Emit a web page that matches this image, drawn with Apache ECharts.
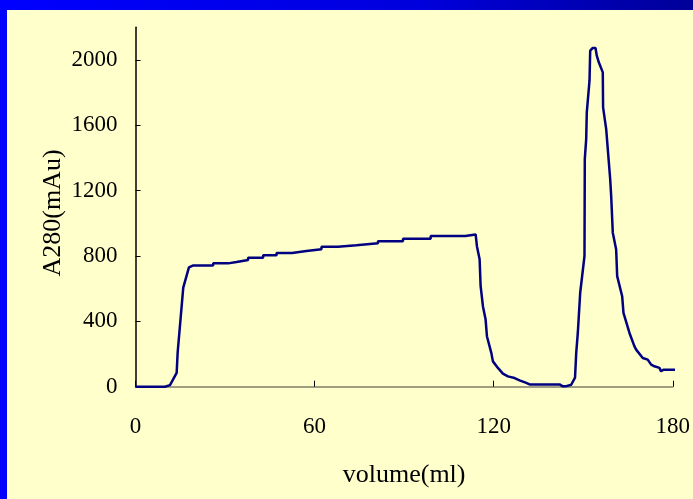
<!DOCTYPE html>
<html>
<head>
<meta charset="utf-8">
<script src="https://cdn.jsdelivr.net/npm/echarts@6/dist/echarts.min.js"></script>
<style>
html,body{margin:0;padding:0;background:#FFFFCC;}
#chart{width:693px;height:499px;}
</style>
</head>
<body>
<div id="chart"></div>
<script>
// Data
var volume = [0, 9.87, 10.2, 11.55, 13.79, 14.12, 16.0, 17.9, 19.34,
  26.0, 26.04, 31.04, 31.06, 33.85, 33.87, 37.73, 37.75, 42.75, 42.77, 47.24, 47.26,
  52.46, 52.48, 57.28, 57.30, 62.30, 62.32, 67.85, 67.87, 74.01, 74.03, 81.24, 81.26,
  89.61, 89.63, 98.88, 98.90, 110.5, 110.84, 113.96,
  114.39, 115.29, 115.63, 116.40, 117.30, 117.74, 119.21, 119.75, 121.42, 123.09,
  124.77, 127.01, 128.68, 130.92, 132.03, 142.07, 143.17, 144.08, 145.98,
  147.26, 147.66, 148.19, 148.99, 150.43, 150.53, 151.0, 151.2, 152.11, 152.34,
  153.21, 154.12, 154.55, 155.22, 156.56, 156.66, 157.70, 159.04, 159.37, 159.91,
  161.04, 161.38, 163.05, 163.49, 165.50, 167.17, 167.74, 169.95, 171.62, 172.76,
  173.86, 175.54, 176.10, 176.87, 180.89];
var a280 = [0, 0, 10, 10, 85, 208, 607, 730, 742,
  742, 755, 755, 763, 763, 775, 775, 790, 790, 804, 804, 818,
  818, 830, 830, 842, 842, 857, 857, 866, 866, 878, 878, 891,
  891, 906, 906, 922, 922, 932, 932,
  860, 780, 615, 493, 411, 309, 207, 155, 115, 80,
  63, 53, 39, 23, 14, 14, 2, 2, 12,
  55, 207, 329, 575, 800, 1393, 1515, 1679, 1873, 2057,
  2074, 2074, 2026, 1986, 1924, 1710, 1577, 1270, 1167, 943,
  840, 677, 554, 452, 329, 247, 227, 176, 166, 135,
  125, 115, 94, 104, 104];
var xTicks = [0, 60, 120, 180];
var yTicks = [0, 400, 800, 1200, 1600, 2000];

var pts = volume.map(function (v, i) { return [v, a280[i]]; });
var titleFont = '"Liberation Serif", serif';
var labelFont = '"Liberation Serif", serif';

var chart = echarts.init(document.getElementById('chart'), null, {renderer: 'canvas'});
chart.setOption({
  animation: false,
  backgroundColor: '#FFFFCC',
  grid: {left: 135.5, right: 19.7, top: 27.3, bottom: 112.3, containLabel: false},
  graphic: [
    {type: 'rect', left: 0, top: 0, shape: {x: 0, y: 0, width: 7, height: 499}, style: {fill: '#0000FF'}, z: 100},
    {type: 'rect', left: 0, top: 0, shape: {x: 0, y: 0, width: 693, height: 10},
      style: {fill: new echarts.graphic.LinearGradient(0, 0, 1, 0, [
        {offset: 0, color: '#0000FF'}, {offset: 0.6, color: '#0000DD'}, {offset: 1, color: '#000099'}])}, z: 100}
  ],
  xAxis: {
    type: 'value', min: 0, max: 180, interval: 60,
    name: 'volume(ml)', nameLocation: 'middle', nameGap: 75,
    nameTextStyle: {fontFamily: titleFont, fontSize: 26, color: '#000'},
    axisLine: {show: true, onZero: false, lineStyle: {color: '#7f7f6a', width: 1.5}},
    axisTick: {show: true, inside: true, length: 6, lineStyle: {color: '#000'}, customValues: xTicks},
    axisLabel: {fontFamily: labelFont, fontSize: 23, color: '#000', margin: 29, customValues: xTicks,
      formatter: function (v) { return String(v); }},
    splitLine: {show: false}
  },
  yAxis: {
    type: 'value', min: 0, max: 2200, interval: 400,
    name: 'A280(mAu)', nameLocation: 'middle', nameGap: 69, nameMoveOverlap: false,
    nameTextStyle: {fontFamily: titleFont, fontSize: 26, color: '#000', padding: [0, 12, 0, 0]},
    axisLine: {show: true, lineStyle: {color: '#000', width: 1.5}},
    axisTick: {show: true, inside: true, length: 5, lineStyle: {color: '#000'}, customValues: yTicks},
    axisLabel: {fontFamily: labelFont, fontSize: 23, color: '#000', margin: 18, customValues: yTicks,
      formatter: function (v) { return String(v); }},
    splitLine: {show: false}
  },
  series: [{
    type: 'line', data: pts, showSymbol: false, clip: false,
    lineStyle: {color: '#000080', width: 2.5}, z: 5
  }]
});
</script>
</body>
</html>
